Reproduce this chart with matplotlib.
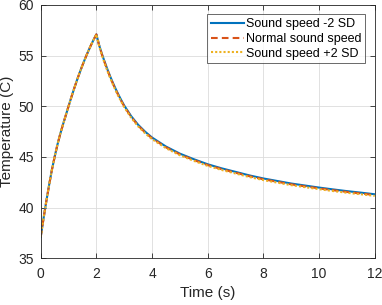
import matplotlib
matplotlib.use("Agg")
import matplotlib.pyplot as plt

plt.rcParams['font.family'] = ['Liberation Sans', 'DejaVu Sans']

time_s = [0.0, 0.1, 0.2, 0.3, 0.4, 0.5, 0.6, 0.7, 0.8, 0.9, 1.0,
          1.1, 1.2, 1.3, 1.4, 1.5, 1.6, 1.7, 1.8, 1.9, 2.0,
          2.1, 2.2, 2.3, 2.4, 2.5, 2.6, 2.7, 2.8, 2.9, 3.0,
          3.25, 3.5, 3.75, 4.0,
          4.5, 5.0, 5.5, 6.0, 6.5, 7.0, 7.5, 8.0, 8.5, 9.0, 9.5, 10.0, 10.5, 11.0, 11.5, 12.0]
temp_normal = [37.1, 38.9, 40.6, 42.2, 43.7, 45.0, 46.2, 47.25, 48.2, 49.1, 50.0,
               50.89, 51.74, 52.55, 53.32, 54.05, 54.74, 55.39, 56.0, 56.57, 57.1,
               56.0, 55.1, 54.3, 53.55, 52.85, 52.2, 51.6, 51.03, 50.5, 50.0,
               48.95, 48.1, 47.42, 46.84,
               45.95, 45.25, 44.7, 44.2, 43.8, 43.45, 43.1, 42.8, 42.55, 42.3, 42.1, 41.9, 41.72, 41.55, 41.4, 41.24]
temp_minus2sd = [37.1, 38.9, 40.6, 42.2, 43.7, 45.0, 46.2, 47.25, 48.2, 49.1, 50.0,
                 50.89, 51.74, 52.55, 53.32, 54.05, 54.74, 55.39, 56.0, 56.57, 57.1,
                 56.04, 55.16, 54.38, 53.63, 52.93, 52.28, 51.68, 51.11, 50.58, 50.08,
                 49.03, 48.18, 47.5, 46.92,
                 46.03, 45.33, 44.78, 44.28, 43.88, 43.53, 43.18, 42.88, 42.63, 42.38, 42.18, 41.98, 41.8, 41.63, 41.48, 41.32]
temp_plus2sd = [37.1, 38.9, 40.6, 42.2, 43.7, 45.0, 46.2, 47.25, 48.2, 49.1, 50.0,
                50.89, 51.74, 52.55, 53.32, 54.05, 54.74, 55.39, 56.0, 56.57, 57.1,
                55.96, 55.04, 54.22, 53.47, 52.77, 52.12, 51.52, 50.95, 50.42, 49.92,
                48.87, 48.02, 47.34, 46.76,
                45.87, 45.17, 44.62, 44.12, 43.72, 43.37, 43.02, 42.72, 42.47, 42.22, 42.02, 41.82, 41.64, 41.47, 41.32, 41.16]
labels = ["Sound speed -2 SD", "Normal sound speed", "Sound speed +2 SD"]
x_ticks = [0, 2, 4, 6, 8, 10, 12]
y_ticks = [35, 40, 45, 50, 55, 60]

fig = plt.figure(figsize=(3.82, 3.05), dpi=100)
ax = fig.add_axes([40.7/382, 1 - 258.3/305, (374.7-40.7)/382, (258.3-5)/305])

ax.plot(time_s, temp_minus2sd, color='#0072BD', lw=1.5, ls='-', label=labels[0])
ax.plot(time_s, temp_normal, color='#D95319', lw=1.5, ls=(0, (3.2, 2.0)), label=labels[1])
ax.plot(time_s, temp_plus2sd, color='#EDB120', lw=1.5, ls=(0, (1, 1)), label=labels[2])

ax.set_xlim(0, 12)
ax.set_ylim(35, 60)
ax.set_xticks(x_ticks)
ax.set_yticks(y_ticks)
ax.grid(True, color='#dcdcdc', lw=0.6)
ax.set_axisbelow(True)
for s in ax.spines.values():
    s.set_color('#262626')
    s.set_linewidth(0.6)
ax.tick_params(direction='in', top=True, right=True, length=3.5, width=0.6,
               colors='#262626', labelsize=10)
ax.tick_params(axis='x', pad=6)
ax.tick_params(axis='y', pad=5)
ax.set_xlabel('Time (s)', fontsize=11, color='#262626', labelpad=4)
ax.set_ylabel('Temperature (C)', fontsize=11, color='#262626')
ax.yaxis.set_label_coords(-(40.7 - 14.5) / 334, 0.5)

leg = ax.legend(loc='upper right', fontsize=9, frameon=True, fancybox=False,
                edgecolor='#262626', handlelength=2.64, handletextpad=0.15,
                borderpad=0.3, labelspacing=0.22, borderaxespad=0.75)
leg.get_frame().set_linewidth(0.6)

fig.savefig('out.png', dpi=100)
